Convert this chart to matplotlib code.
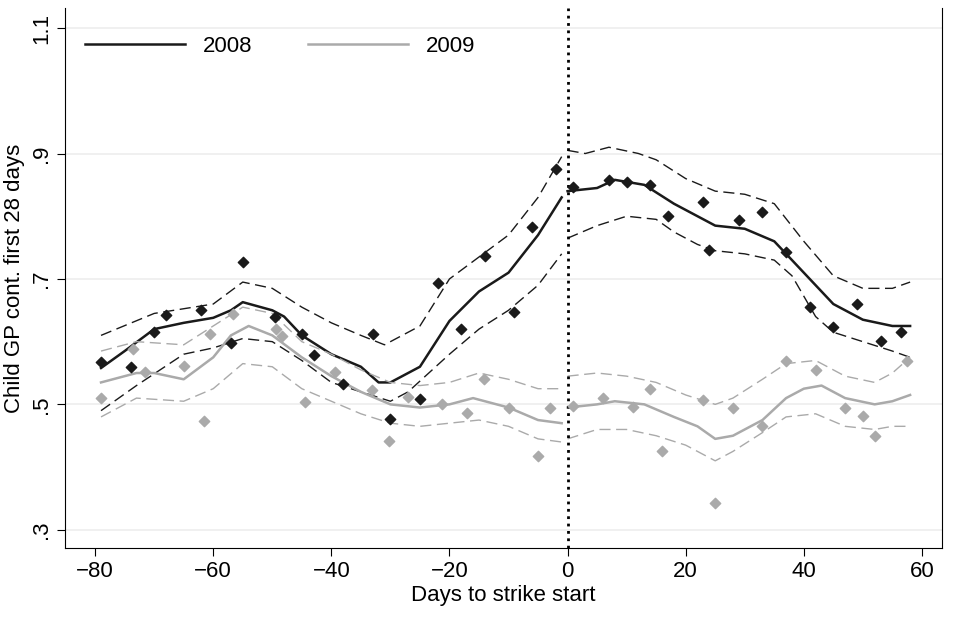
import matplotlib.pyplot as plt

plt.rcParams['font.family'] = ['Liberation Sans', 'DejaVu Sans']

# scatter points (day, share)
x08 = [-79, -74, -70, -68, -62, -57, -55, -49.5, -45, -43, -38, -33, -30, -25, -22, -18, -14, -9, -6, -2,
       1, 7, 10, 14, 17, 23, 24, 29, 33, 37, 41, 45, 49, 53, 56.4]
y08 = [.567, .559, .615, .642, .65, .598, .727, .639, .612, .578, .532, .612, .476, .509, .693, .62, .737, .647, .783, .876,
       .846, .858, .854, .849, .801, .822, .746, .794, .807, .743, .655, .623, .66, .601, .615]
x09 = [-79, -73.6, -71.5, -65, -61.5, -60.5, -56.6, -49.3, -48.3, -44.4, -39.3, -33.2, -30.3, -27, -21.2, -17, -14.2,
       -10, -5, -3, 1, 6, 11, 14, 16, 23, 25, 28, 33, 37, 42, 47, 50, 52, 57.5]
y09 = [.51, .588, .551, .561, .473, .612, .644, .62, .609, .503, .551, .523, .442, .511, .5, .487, .54,
       .495, .418, .494, .498, .51, .496, .524, .425, .507, .343, .495, .466, .569, .555, .495, .481, .45, .569]

# smoothed lines with confidence bands
lx08 = [-79, -75, -70, -65, -60, -57, -55, -50, -48, -45, -40, -35, -32, -30, -25, -20, -15, -10, -5, -1,
        0, 5, 8, 13, 18, 22, 25, 30, 35, 40, 45, 50, 55, 58]
m08 = [.558, .585, .62, .63, .638, .65, .663, .65, .64, .61, .58, .56, .535, .535, .56, .633, .68, .71, .77, .83,
       .84, .845, .858, .85, .82, .80, .785, .78, .76, .71, .66, .635, .625, .625]
ux = [-79, -70, -60, -55, -50, -45, -40, -35, -31, -25, -20, -15, -10, -5, -1,
      0, 3, 7, 12, 15, 20, 25, 30, 35, 40, 45, 50, 55, 58]
u08 = [.61, .645, .66, .695, .685, .655, .63, .61, .595, .625, .70, .735, .77, .83, .895,
       .905, .90, .91, .90, .89, .86, .84, .835, .82, .76, .705, .685, .685, .695]
dx = [-79, -73, -65, -60, -55, -50, -45, -40, -35, -30, -27, -20, -15, -10, -5, -1,
      0, 5, 10, 15, 18, 22, 25, 30, 35, 38, 42, 45, 50, 55, 58]
d08 = [.49, .53, .58, .59, .605, .6, .57, .535, .52, .505, .52, .58, .62, .65, .69, .74,
       .765, .785, .80, .795, .775, .755, .745, .74, .73, .705, .64, .615, .6, .585, .575]

lx09 = [-79, -73, -70, -65, -60, -57, -54, -50, -45, -40, -35, -30, -25, -20, -16, -10, -5, -1,
        0, 5, 8, 13, 18, 22, 25, 28, 33, 37, 40, 43, 47, 52, 55, 58]
m09 = [.535, .55, .55, .54, .575, .61, .625, .61, .575, .545, .52, .50, .495, .50, .51, .495, .475, .47,
       .495, .50, .505, .50, .48, .465, .445, .45, .475, .51, .525, .53, .51, .50, .505, .515]
bx09 = [-79, -73, -65, -60, -55, -50, -45, -40, -35, -30, -25, -20, -15, -10, -5, -1,
        0, 5, 10, 15, 20, 25, 28, 33, 37, 42, 47, 52, 55, 58]
u09 = [.585, .6, .595, .625, .655, .645, .60, .58, .555, .535, .53, .535, .55, .54, .525, .525,
       .545, .55, .545, .535, .515, .50, .51, .54, .565, .57, .545, .535, .55, .575]
d09 = [.48, .51, .505, .525, .565, .56, .525, .505, .485, .47, .465, .47, .475, .465, .445, .44,
       .445, .46, .46, .45, .435, .41, .425, .455, .48, .485, .465, .46, .465, .465]

black = "#1a1a1a"
gray = "#aaaaaa"

fig = plt.figure(figsize=(9.74, 6.18), dpi=100)
ax = fig.add_axes([65/974, 1-548/618, (942-65)/974, (548-8)/618])

ax.scatter(x08, y08, marker="D", s=28, color=black, zorder=3)
ax.scatter(x09, y09, marker="D", s=28, color=gray, zorder=3)

# split lines at 0 so they break at the strike start
def draw(xs, ys, color, style, lw, label=None):
    pre = [(a, b) for a, b in zip(xs, ys) if a < 0]
    post = [(a, b) for a, b in zip(xs, ys) if a >= 0]
    for i, part in enumerate([pre, post]):
        ax.plot([p[0] for p in part], [p[1] for p in part], color=color, ls=style, lw=lw,
                dashes=(8, 4) if style == "--" else (None, None),
                label=label if i == 0 else None)

draw(lx08, m08, black, "-", 1.8, "2008")
draw(ux, u08, black, "--", 1.0)
draw(dx, d08, black, "--", 1.0)
draw(lx09, m09, gray, "-", 1.8, "2009")
draw(bx09, u09, gray, "--", 1.0)
draw(bx09, d09, gray, "--", 1.0)

ax.axvline(0, color="black", ls=":", lw=2)

ax.set_xlim(-85.1, 63.4)
ax.set_ylim(0.271, 1.132)
ax.set_yticks([.3, .5, .7, .9, 1.1])
ax.set_yticklabels([".3", ".5", ".7", ".9", "1.1"], rotation=90, va="center")
ax.set_xticks(range(-80, 61, 20))
ax.grid(axis="y", color="#eeeeee", lw=1.2)
ax.set_axisbelow(True)
ax.spines["top"].set_visible(False)
ax.tick_params(labelsize=16, length=6)
ax.set_xlabel("Days to strike start", fontsize=16, labelpad=2)
ax.set_ylabel("Child GP cont. first 28 days", fontsize=16)
ax.legend(loc="upper left", frameon=False, ncol=2, fontsize=16, handlelength=4.5,
          columnspacing=2.5, bbox_to_anchor=(0.0, 0.985))

fig.savefig("out.png", dpi=100)
